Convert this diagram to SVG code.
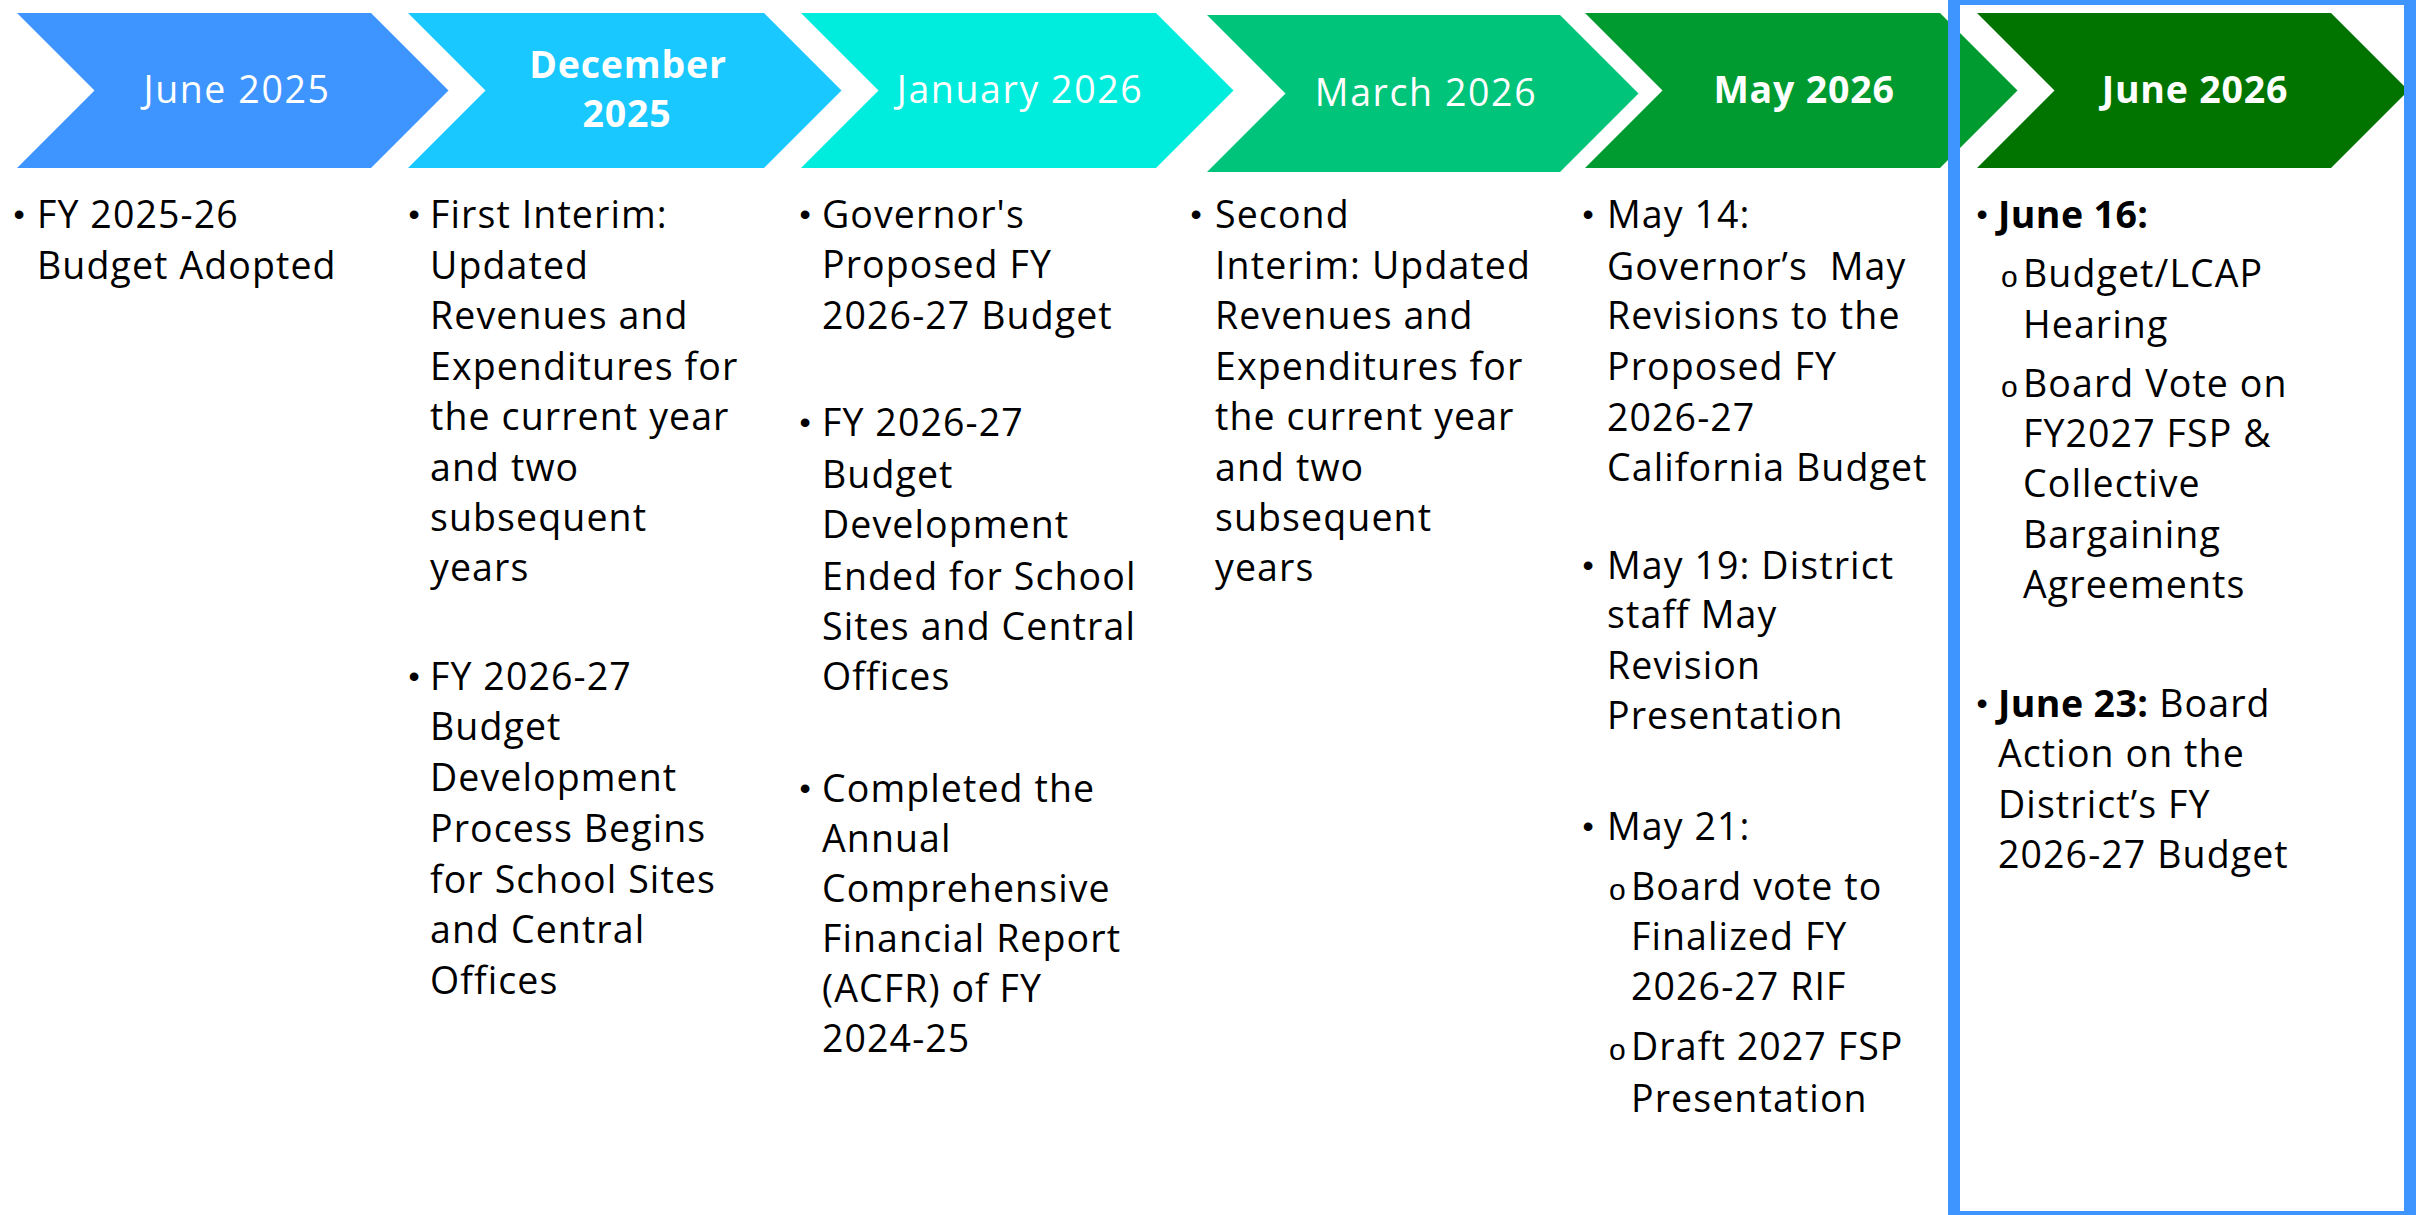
<svg xmlns="http://www.w3.org/2000/svg" width="2425" height="1215" viewBox="0 0 2425 1215">
<style>
.hd{font-family:"Open Sans","Noto Sans","Liberation Sans",sans-serif;font-size:37.5px;fill:#fff;text-anchor:middle}
.hl{font-weight:400;letter-spacing:1.6px}
.hb{font-weight:700;letter-spacing:0.8px}
.t{font-family:"Open Sans","Noto Sans","Liberation Sans",sans-serif;font-size:37.5px;letter-spacing:1.1px;fill:#000}
.bu{font-family:"Liberation Sans",sans-serif;font-size:32px;fill:#000;text-anchor:middle}
.so{font-family:"Liberation Sans",sans-serif;font-size:30px;fill:#000}
.b{font-weight:700;letter-spacing:0.4px}
</style>
<rect width="2425" height="1215" fill="#fff"/>
<g id="connectors"/>
<g id="col-june-2025">
<polygon points="17,13 371,13 448.5,90.5 371,168 17,168 94.5,90.5" fill="#3F95FF"/>
<text class="hd hl" x="237" y="103">June 2025</text>
<text class="bu" x="19" y="225">•</text>
<text class="t" x="37" y="228">FY 2025-26</text>
<text class="t" x="37" y="279">Budget Adopted</text>
</g>
<g id="col-december-2025">
<polygon points="408,13 764,13 841.5,90.5 764,168 408,168 485.5,90.5" fill="#18C8FF"/>
<text class="hd hb" x="628" y="78">December</text>
<text class="hd hb" x="627" y="127">2025</text>
<text class="bu" x="414" y="225">•</text>
<text class="t" x="430" y="228">First Interim:</text>
<text class="t" x="430" y="279">Updated</text>
<text class="t" x="430" y="329">Revenues and</text>
<text class="t" x="430" y="380">Expenditures for</text>
<text class="t" x="430" y="430">the current year</text>
<text class="t" x="430" y="481">and two</text>
<text class="t" x="430" y="531">subsequent</text>
<text class="t" x="430" y="581">years</text>
<text class="bu" x="414" y="687">•</text>
<text class="t" x="430" y="690">FY 2026-27</text>
<text class="t" x="430" y="740">Budget</text>
<text class="t" x="430" y="791">Development</text>
<text class="t" x="430" y="842">Process Begins</text>
<text class="t" x="430" y="893">for School Sites</text>
<text class="t" x="430" y="943">and Central</text>
<text class="t" x="430" y="994">Offices</text>
</g>
<g id="col-january-2026">
<polygon points="801,13 1156,13 1233.5,90.5 1156,168 801,168 878.5,90.5" fill="#00EDDD"/>
<text class="hd hl" x="1020" y="103">January 2026</text>
<text class="bu" x="805" y="225">•</text>
<text class="t" x="822" y="228">Governor's</text>
<text class="t" x="822" y="278">Proposed FY</text>
<text class="t" x="822" y="329">2026-27 Budget</text>
<text class="bu" x="805" y="433">•</text>
<text class="t" x="822" y="436">FY 2026-27</text>
<text class="t" x="822" y="488">Budget</text>
<text class="t" x="822" y="538">Development</text>
<text class="t" x="822" y="590">Ended for School</text>
<text class="t" x="822" y="640">Sites and Central</text>
<text class="t" x="822" y="690">Offices</text>
<text class="bu" x="805" y="799">•</text>
<text class="t" x="822" y="802">Completed the</text>
<text class="t" x="822" y="852">Annual</text>
<text class="t" x="822" y="902">Comprehensive</text>
<text class="t" x="822" y="952">Financial Report</text>
<text class="t" x="822" y="1002">(ACFR) of FY</text>
<text class="t" x="822" y="1052">2024-25</text>
</g>
<g id="col-march-2026">
<polygon points="1207,15 1560,15 1638.5,93.5 1560,172 1207,172 1285.5,93.5" fill="#00C47A"/>
<text class="hd hl" x="1426" y="106">March 2026</text>
<text class="bu" x="1196" y="225">•</text>
<text class="t" x="1215" y="228">Second</text>
<text class="t" x="1215" y="279">Interim: Updated</text>
<text class="t" x="1215" y="329">Revenues and</text>
<text class="t" x="1215" y="380">Expenditures for</text>
<text class="t" x="1215" y="430">the current year</text>
<text class="t" x="1215" y="481">and two</text>
<text class="t" x="1215" y="531">subsequent</text>
<text class="t" x="1215" y="581">years</text>
</g>
<g id="col-may-2026">
<polygon points="1585,13 1940,13 2017.5,90.5 1940,168 1585,168 1662.5,90.5" fill="#009B30"/>
<text class="hd hb" x="1804" y="103">May 2026</text>
<text class="bu" x="1588" y="225">•</text>
<text class="t" x="1607" y="228">May 14:</text>
<text class="t" x="1607" y="280" xml:space="preserve">Governor’s  May</text>
<text class="t" x="1607" y="329">Revisions to the</text>
<text class="t" x="1607" y="380">Proposed FY</text>
<text class="t" x="1607" y="431">2026-27</text>
<text class="t" x="1607" y="481">California Budget</text>
<text class="bu" x="1588" y="576">•</text>
<text class="t" x="1607" y="579">May 19: District</text>
<text class="t" x="1607" y="628">staff May</text>
<text class="t" x="1607" y="679">Revision</text>
<text class="t" x="1607" y="729">Presentation</text>
<text class="bu" x="1588" y="837">•</text>
<text class="t" x="1607" y="840">May 21:</text>
<text class="so" x="1609" y="900">o</text>
<text class="t" x="1631" y="900">Board vote to</text>
<text class="t" x="1631" y="950">Finalized FY</text>
<text class="t" x="1631" y="1000">2026-27 RIF</text>
<text class="so" x="1609" y="1060">o</text>
<text class="t" x="1631" y="1060">Draft 2027 FSP</text>
<text class="t" x="1631" y="1112">Presentation</text>
</g>
<g id="col-june-2026">
<polygon points="1977,13 2331,13 2408.5,90.5 2331,168 1977,168 2054.5,90.5" fill="#017400"/>
<text class="hd hb" x="2195" y="103">June 2026</text>
<text class="bu" x="1982" y="225">•</text>
<text class="t b" x="1998" y="228">June 16:</text>
<text class="so" x="2001" y="287">o</text>
<text class="t" x="2023" y="287">Budget/LCAP</text>
<text class="t" x="2023" y="338">Hearing</text>
<text class="so" x="2001" y="397">o</text>
<text class="t" x="2023" y="397">Board Vote on</text>
<text class="t" x="2023" y="447">FY2027 FSP &amp;</text>
<text class="t" x="2023" y="497">Collective</text>
<text class="t" x="2023" y="548">Bargaining</text>
<text class="t" x="2023" y="598">Agreements</text>
<text class="bu" x="1982" y="714">•</text>
<text class="t" x="1998" y="717"><tspan class="b">June 23:</tspan> Board</text>
<text class="t" x="1998" y="767">Action on the</text>
<text class="t" x="1998" y="818">District’s FY</text>
<text class="t" x="1998" y="868">2026-27 Budget</text>
</g>
<g id="highlight-frame">
<rect x="1954" y="-1" width="456" height="1218" fill="none" stroke="#3F95FF" stroke-width="12"/>
</g>
</svg>
